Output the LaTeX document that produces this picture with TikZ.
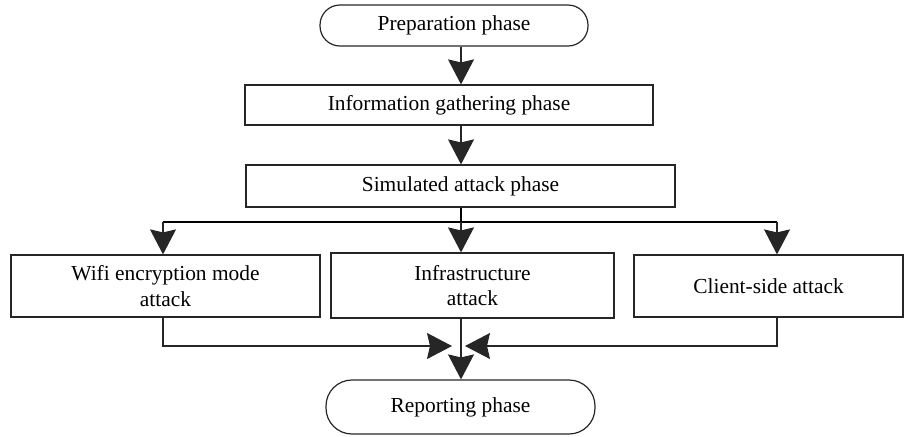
\documentclass[tikz,border=0pt]{standalone}
\usepackage{fontspec}
\setmainfont{Liberation Serif}
\usetikzlibrary{arrows.meta,calc}

\begin{document}
\begin{tikzpicture}[x=0.5pt,y=-0.5pt,
  line width=0.6pt,
  font=\fontsize{10.7}{12.8}\selectfont,
  phase/.style={draw=black!85,align=center,inner sep=0pt},
  term/.style={phase,rounded corners=10pt},
  ar/.style={-{Stealth[length=12.5pt,width=13pt,inset=1.5pt]},draw=black!85}]

\useasboundingbox (0,0) rectangle (904,436);

\node[term,minimum width=134pt,minimum height=20.5pt]  (prep)   at (454,25.5)  {Preparation phase};
\node[phase,minimum width=204pt,minimum height=20pt]   (info)   at (449,105)   {Information gathering phase};
\node[phase,minimum width=214.5pt,minimum height=21pt] (sim)    at (460.5,186) {Simulated attack phase};
\node[phase,minimum width=154.5pt,minimum height=31pt] (wifi)   at (165.5,286) {Wifi encryption mode\\attack};
\node[phase,minimum width=141.5pt,minimum height=32.5pt] (infra) at (472.5,285.5) {Infrastructure\\attack};
\node[phase,minimum width=134.5pt,minimum height=31pt] (client) at (768.5,286) {Client-side attack};
\node[term,rounded corners=13pt,minimum width=134.5pt,minimum height=27pt] (rep) at (460.5,407) {Reporting phase};

\coordinate (split) at (461,222);
\coordinate (lt)    at (163,222);
\coordinate (rt)    at (777,222);
\coordinate (lj)    at (452,346);
\coordinate (rj)    at (465,346);

\draw[ar] (prep.south -| split) -- (info.north -| split);
\draw[ar] (info.south -| split) -- (sim.north -| split);
\draw (sim.south -| split) -- (split);
\draw (lt) -- (rt);
\draw[ar] (lt) -- (lt |- wifi.north);
\draw[ar] (split) -- (split |- infra.north);
\draw[ar] (rt) -- (rt |- client.north);
\draw[ar] (lt |- wifi.south) |- (lj);
\draw[ar] (rt |- client.south) |- (rj);
\draw[ar] (split |- infra.south) -- (split |- rep.north);
\end{tikzpicture}
\end{document}
